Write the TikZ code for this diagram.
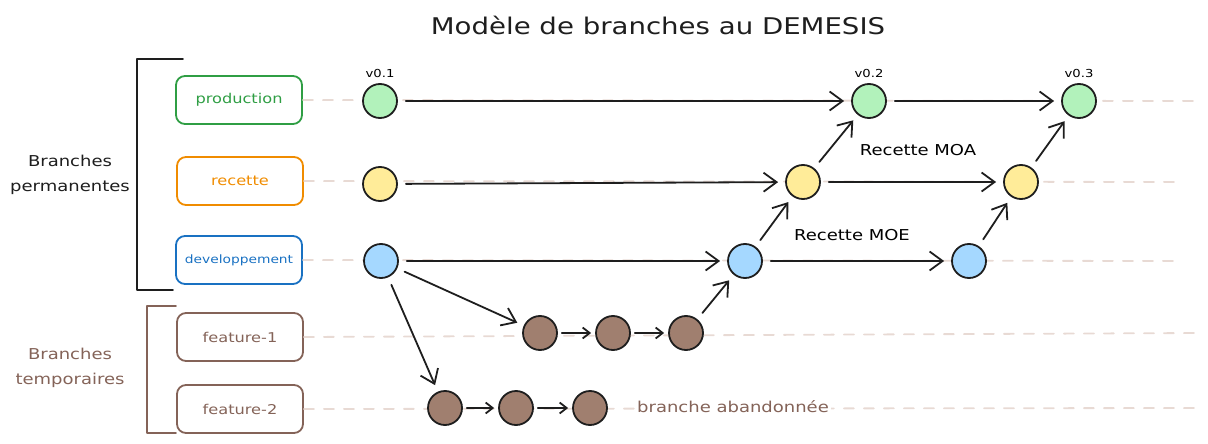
\documentclass[tikz,border=0pt]{standalone}
\usepackage{fontspec}
\setmainfont[FakeStretch=1.2]{DejaVu Sans}
\usetikzlibrary{arrows.meta}
\usetikzlibrary{positioning}
\definecolor{exc-noir}{HTML}{1E1E1E}
\definecolor{exc-vert}{HTML}{2F9E44}
\definecolor{exc-orange}{HTML}{F08C00}
\definecolor{exc-bleu}{HTML}{1971C2}
\definecolor{exc-brun}{HTML}{846358}
\definecolor{fond-vert}{HTML}{B2F2BB}
\definecolor{fond-orange}{HTML}{FFEC99}
\definecolor{fond-bleu}{HTML}{A5D8FF}
\definecolor{fond-brun}{HTML}{A07F6F}
\definecolor{exc-piste}{HTML}{E8DAD4}

\tikzset{
  branche/.style={draw, rounded corners=9pt, line width=1.8pt, minimum width=126pt, minimum height=48pt, inner xsep=2pt, font=\fontsize{13.5}{16}\selectfont},
  commit/.style={circle, draw=exc-noir, line width=1.8pt, minimum size=34pt, inner sep=0pt},
  fleche/.style={line width=1.8pt, draw=exc-noir, -{Straight Barb[length=13pt,width=19pt,line width=1.8pt]}, shorten >=7pt, shorten <=8pt},
  petite/.style={fleche, -{Straight Barb[length=7pt,width=11pt,line width=1.8pt]}, shorten >=4pt, shorten <=4pt},
  piste/.style={draw=exc-piste, line width=1.8pt, dash pattern=on 10pt off 10pt},
  legende/.style={font=\fontsize{15}{25}\selectfont, align=center},
}

\begin{document}
\begin{tikzpicture}[x=1pt, y=-1pt, line cap=round, line join=round]
    % frame
    \useasboundingbox (0,0) rectangle (1208,444);

    % title
    \node[font=\fontsize{23}{25}\selectfont, text=exc-noir] (titre) at (658,25) {Modèle de branches au DEMESIS};

    % branch boxes
    \node[branche, draw=exc-vert, text=exc-vert] (production) at (239,100) {production};
    \node[branche, draw=exc-orange, text=exc-orange] (recette) at (240,181) {recette};
    \node[branche, draw=exc-bleu, text=exc-bleu, font=\fontsize{11.5}{14}\selectfont] (developpement) at (239,260) {developpement};
    \node[branche, draw=exc-brun, text=exc-brun] (feature1) at (240,337) {feature-1};
    \node[branche, draw=exc-brun, text=exc-brun] (feature2) at (240,409) {feature-2};

    % brackets
    \draw[line width=1.8pt, exc-noir] (183,59) -- (137,59) -- (137,290) -- (173,290);
    \node[legende, text=exc-noir] (permanentes) at (70,175) {Branches\\permanentes};
    \draw[line width=1.8pt, exc-brun] (176,306) -- (147,306) -- (147,433) -- (176,433);
    \node[legende, text=exc-brun] (temporaires) at (70,368) {Branches\\temporaires};

    % lanes
    \coordinate (fin-prod) at (1195,101);
    \coordinate (fin-rec) at (1180,182);
    \coordinate (fin-dev) at (1180,261);
    \coordinate (fin-f1) at (1200,333);
    \coordinate (fin-f2) at (1200,408);
    \draw[piste] (production.east) -- (fin-prod);
    \draw[piste] (recette.east) -- (fin-rec);
    \draw[piste] (developpement.east) -- (fin-dev);
    \draw[piste] (feature1.east) -- (fin-f1);
    \draw[piste] (feature2.east) -- (fin-f2);

    % commits
    \node[commit, fill=fond-vert] (p1) at (380,101) {};
    \node[commit, fill=fond-vert] (p2) at (869,101) {};
    \node[commit, fill=fond-vert] (p3) at (1079,101) {};
    \node[commit, fill=fond-orange] (r1) at (380,184) {};
    \node[commit, fill=fond-orange] (r2) at (803,182) {};
    \node[commit, fill=fond-orange] (r3) at (1021,182) {};
    \node[commit, fill=fond-bleu] (d1) at (381,261) {};
    \node[commit, fill=fond-bleu] (d2) at (745,261) {};
    \node[commit, fill=fond-bleu] (d3) at (969,261) {};
    \node[commit, fill=fond-brun] (fa1) at (540,333) {};
    \node[commit, fill=fond-brun] (fa2) at (613,333) {};
    \node[commit, fill=fond-brun] (fa3) at (686,333) {};
    \node[commit, fill=fond-brun] (fb1) at (445,408) {};
    \node[commit, fill=fond-brun] (fb2) at (516,408) {};
    \node[commit, fill=fond-brun] (fb3) at (590,408) {};

    % versions
    \node[font=\fontsize{11}{13}\selectfont, above=2pt of p1] (v1) {v0.1};
    \node[font=\fontsize{11}{13}\selectfont, above=2pt of p2] (v2) {v0.2};
    \node[font=\fontsize{11}{13}\selectfont, above=2pt of p3] (v3) {v0.3};

    % merges
    \draw[fleche] (p1) -- (p2);
    \draw[fleche] (p2) -- (p3);
    \draw[fleche] (r1) -- (r2);
    \draw[fleche] (r2) -- (r3);
    \draw[fleche] (d1) -- (d2);
    \draw[fleche] (d2) -- (d3);
    \draw[fleche] (d2) -- (r2);
    \draw[fleche] (r2) -- (p2);
    \draw[fleche] (d3) -- (r3);
    \draw[fleche] (r3) -- (p3);
    \draw[fleche] (d1) -- (fa1);
    \draw[fleche] (d1) -- (fb1);
    \draw[fleche] (fa3) -- (d2);
    \draw[petite] (fa1) -- (fa2);
    \draw[petite] (fa2) -- (fa3);
    \draw[petite] (fb1) -- (fb2);
    \draw[petite] (fb2) -- (fb3);

    % labels
    \node[font=\fontsize{15}{17}\selectfont] (moa) at (918,150) {Recette MOA};
    \node[font=\fontsize{15}{17}\selectfont] (moe) at (852,235) {Recette MOE};
    \node[font=\fontsize{15}{17}\selectfont, text=exc-brun, fill=white, inner xsep=2pt] (abandon) at (733,407) {branche abandonnée};

\end{tikzpicture}
\end{document}
